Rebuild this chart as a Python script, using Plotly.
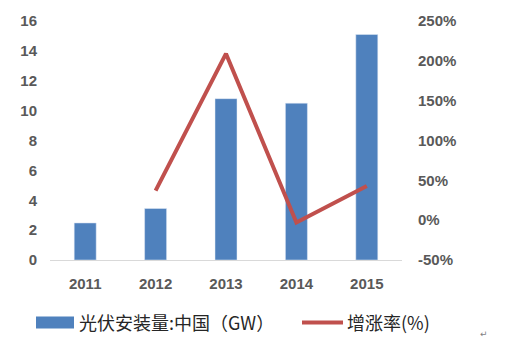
import plotly.graph_objects as go

years = ["2011", "2012", "2013", "2014", "2015"]
install_gw = [2.48, 3.45, 10.8, 10.5, 15.1]
growth_years = ["2012", "2013", "2014", "2015"]
growth_rate = [0.37, 2.09, -0.03, 0.43]

left_ticks = [0, 2, 4, 6, 8, 10, 12, 14, 16]
right_ticks = [-0.5, 0, 0.5, 1.0, 1.5, 2.0, 2.5]
right_tick_labels = ["-50%", "0%", "50%", "100%", "150%", "200%", "250%"]

bar_name = "光伏安装量:中国（GW）"
line_name = "增涨率(%)"

BLUE = "#4F81BD"
RED = "#C0504D"
TXT = "#595959"

fig = go.Figure()
fig.add_trace(go.Bar(x=years, y=install_gw, name=bar_name, marker=dict(color=BLUE),
                     yaxis="y", showlegend=False))
fig.add_trace(go.Scatter(x=growth_years, y=growth_rate, name=line_name, mode="lines",
                         line=dict(color=RED, width=4), yaxis="y2", showlegend=False))

W, H = 511, 343
L, R, T, B = 50, 402, 19, 260
pw, ph = R - L, B - T
def px(x):
    return (x - L) / pw
def py(y):
    return (B - y) / ph

tickfont = dict(family="Liberation Sans", size=15, color=TXT, weight="bold")

fig.update_layout(
    width=W, height=H,
    margin=dict(l=L, r=W - R, t=T, b=H - B),
    paper_bgcolor="white", plot_bgcolor="white",
    bargap=0.6875,
    xaxis=dict(type="category", categoryorder="array", categoryarray=years,
               showgrid=False, showline=True, linecolor="#D9D9D9", linewidth=1,
               ticks="", tickfont=tickfont, ticklabelstandoff=10),
    yaxis=dict(range=[0, 16], tickvals=left_ticks, showgrid=False, zeroline=False,
               showline=False, ticks="", tickfont=tickfont, ticklabelstandoff=12),
    yaxis2=dict(range=[-0.5, 2.5], tickvals=right_ticks, ticktext=right_tick_labels,
                overlaying="y", side="right", showgrid=False, zeroline=False,
                showline=False, ticks="", tickfont=tickfont, ticklabelstandoff=15),
    showlegend=False,
)

# manual legend
fig.add_shape(type="rect", xref="paper", yref="paper",
              x0=px(36), x1=px(74), y0=py(329), y1=py(317),
              fillcolor=BLUE, line=dict(width=0))
fig.add_shape(type="line", xref="paper", yref="paper",
              x0=px(302), x1=px(343), y0=py(323), y1=py(323),
              line=dict(color=RED, width=4))
legfont = dict(family="Noto Sans CJK SC", size=18, color="#262626")
fig.add_annotation(text=bar_name, xref="paper", yref="paper", x=px(77), y=py(323),
                   xanchor="left", yanchor="middle", showarrow=False, font=legfont)
fig.add_annotation(text=line_name, xref="paper", yref="paper", x=px(345), y=py(323),
                   xanchor="left", yanchor="middle", showarrow=False, font=legfont)
fig.add_annotation(text="↵", xref="paper", yref="paper", x=px(478), y=py(335),
                   xanchor="left", yanchor="middle", showarrow=False,
                   font=dict(family="DejaVu Sans", size=9, color="#7F7F7F"))

fig.write_html("out.html")
